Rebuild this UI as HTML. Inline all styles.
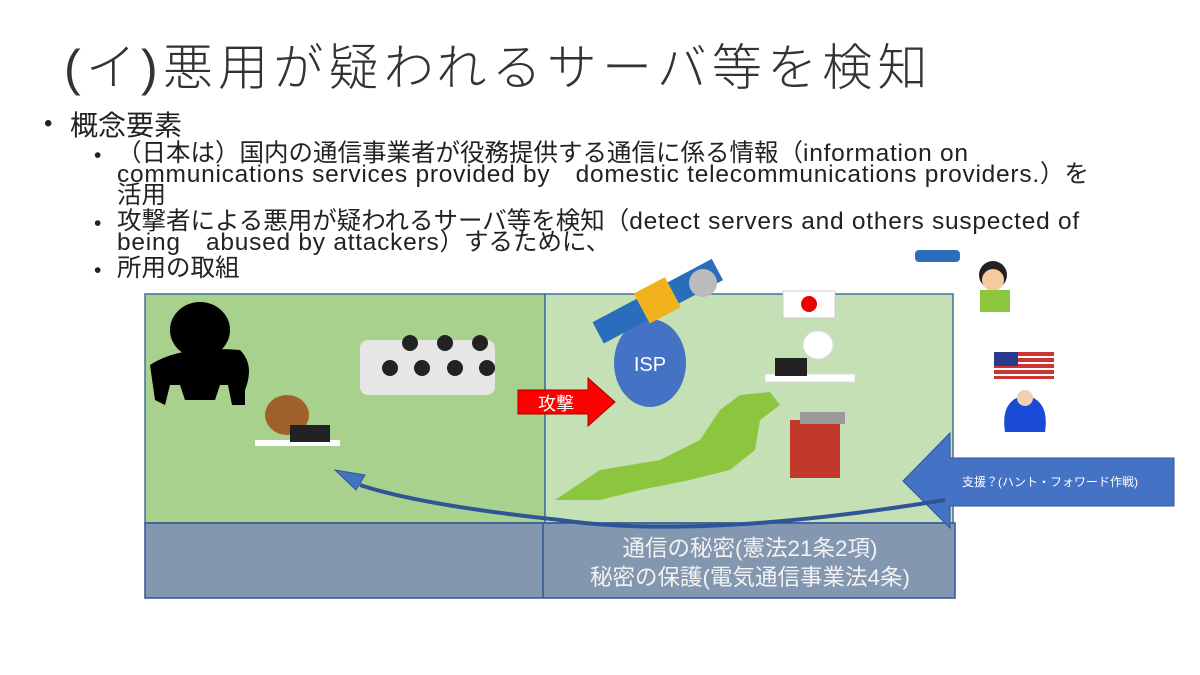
<!DOCTYPE html>
<html><head><meta charset="utf-8"><style>
body{margin:0;width:1200px;height:675px;background:#fff;overflow:hidden;position:relative;font-family:"Liberation Sans","Noto Sans CJK JP",sans-serif;color:#222}
.a{position:absolute;white-space:nowrap}
.t{left:64px;top:28px;font-size:50px;color:#333;font-weight:300;letter-spacing:5.2px}
.b1{left:70px;top:104px;font-size:28px}
.s{font-size:24.5px;line-height:21px;left:117px}
.s span{letter-spacing:0.75px}
.d{left:94px;font-size:21px}
</style></head><body>
<div class="a t">(イ)悪用が疑われるサーバ等を検知</div>
<div class="a" style="left:44px;top:110px;font-size:24px">•</div>
<div class="a b1">概念要素</div>
<div class="a d" style="top:144px">•</div>
<div class="a s" style="top:143px">（日本は）国内の通信事業者が役務提供する通信に係る情報（<span>information on</span><br><span>communications services provided by　domestic telecommunications providers.</span>）を<br>活用</div>
<div class="a d" style="top:212px">•</div>
<div class="a s" style="top:211px">攻撃者による悪用が疑われるサーバ等を検知（<span>detect servers and others suspected of</span><br><span>being　abused by attackers</span>）するために、</div>
<div class="a d" style="top:259px">•</div>
<div class="a s" style="top:258px">所用の取組</div>

<svg class="a" style="left:0;top:0" width="1200" height="675">
<rect x="145" y="294" width="400" height="229" fill="#a9d18e" stroke="#41719c" stroke-width="1.5"/>
<rect x="545" y="294" width="408" height="229" fill="#c5e0b4" stroke="#41719c" stroke-width="1.5"/>
<rect x="145" y="523" width="810" height="75" fill="#8497b0" stroke="#2f5597" stroke-width="1.5"/>
<line x1="543" y1="523" x2="543" y2="598" stroke="#2f5597" stroke-width="1.5"/>
<text x="750" y="556" fill="#f2f2f2" font-size="22.5" text-anchor="middle">通信の秘密(憲法21条2項)</text>
<text x="750" y="585" fill="#f2f2f2" font-size="22.5" text-anchor="middle">秘密の保護(電気通信事業法4条)</text>
<path d="M555 500 L600 470 L660 460 L700 440 L720 410 L740 395 L770 392 L780 405 L760 420 L755 450 L730 470 L690 480 L640 490 L600 500 Z" fill="#8cc63f"/>
<rect x="790" y="420" width="50" height="58" fill="#c0392b"/>
<rect x="800" y="412" width="45" height="12" fill="#999"/>
<ellipse cx="650" cy="363" rx="36" ry="44" fill="#4472c4"/>
<text x="650" y="371" fill="#fff" font-size="20" text-anchor="middle">ISP</text>
<path d="M518 390 L588 390 L588 378 L615 402 L588 426 L588 414 L518 414 Z" fill="#ff0000" stroke="#a00" stroke-width="1"/>
<text x="556" y="410" fill="#fff" font-size="18" text-anchor="middle">攻撃</text>
<path d="M1174 458 L950 458 L950 433 L903 481 L950 528 L950 506 L1174 506 Z" fill="#4472c4" stroke="#2f5597"/>
<text x="1050" y="486" fill="#fff" font-size="12" text-anchor="middle">支援？(ハント・フォワード作戦)</text>
<path d="M945 500 Q700 540 560 520 Q420 505 360 485" fill="none" stroke="#2f5597" stroke-width="4"/>
<path d="M335 470 L365 475 L356 490 Z" fill="#4472c4" stroke="#2f5597"/>
<ellipse cx="200" cy="330" rx="30" ry="28" fill="#000"/>
<path d="M150 365 Q180 345 240 350 Q255 365 245 390 L245 405 L232 405 L228 385 L220 385 L215 400 L185 400 L180 385 L170 385 L165 405 L155 400 Z" fill="#000"/>
<ellipse cx="287" cy="415" rx="22" ry="20" fill="#a0602a"/>
<rect x="255" y="440" width="85" height="6" fill="#fff"/>
<rect x="290" y="425" width="40" height="17" fill="#222"/>
<rect x="360" y="340" width="135" height="55" fill="#e6e6e6" rx="8"/>
<g fill="#222"><circle cx="410" cy="343" r="8"/><circle cx="445" cy="343" r="8"/><circle cx="480" cy="343" r="8"/><circle cx="390" cy="368" r="8"/><circle cx="422" cy="368" r="8"/><circle cx="455" cy="368" r="8"/><circle cx="487" cy="368" r="8"/></g>
<g transform="rotate(-28 660 300)"><rect x="590" y="288" width="50" height="24" fill="#2a6ebb"/><rect x="640" y="282" width="35" height="34" fill="#f2b21c"/><rect x="675" y="288" width="50" height="24" fill="#2a6ebb"/></g>
<circle cx="703" cy="283" r="14" fill="#bbb"/>
<rect x="783" y="291" width="52" height="27" fill="#fff" stroke="#ccc"/>
<circle cx="809" cy="304" r="8" fill="#e00"/>
<ellipse cx="818" cy="345" rx="15" ry="14" fill="#fff" stroke="#ddd"/>
<rect x="765" y="374" width="90" height="8" fill="#fff" stroke="#ddd"/>
<rect x="775" y="358" width="32" height="18" fill="#222"/>
<rect x="915" y="250" width="45" height="12" fill="#2a6ebb" rx="4"/>
<circle cx="993" cy="275" r="14" fill="#222"/>
<circle cx="993" cy="280" r="11" fill="#f6c9a0"/>
<rect x="980" y="290" width="30" height="22" fill="#8cc63f"/>
<rect x="994" y="352" width="60" height="27" fill="#c33"/>
<g fill="#fff"><rect x="994" y="356" width="60" height="2"/><rect x="994" y="362" width="60" height="2"/><rect x="994" y="368" width="60" height="2"/><rect x="994" y="374" width="60" height="2"/></g>
<rect x="994" y="352" width="24" height="14" fill="#2a3a8a"/>
<path d="M1005 432 Q1000 400 1025 395 Q1050 400 1045 432 Z" fill="#1a4bd6"/>
<circle cx="1025" cy="398" r="8" fill="#f0d0b0"/>
</svg>
</body></html>
